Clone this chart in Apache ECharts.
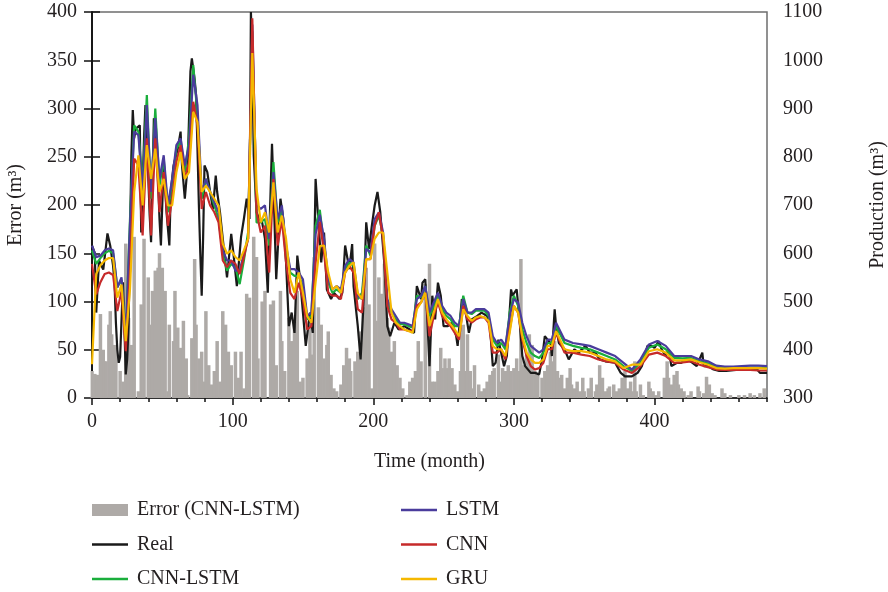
<!DOCTYPE html>
<html>
<head>
<meta charset="utf-8">
<script src="https://cdn.jsdelivr.net/npm/echarts@6/dist/echarts.min.js"></script>
<style>
  html, body { margin: 0; padding: 0; background: #ffffff; }
  #chart { width: 888px; height: 592px; }
</style>
</head>
<body>
<div id="chart"></div>
<script>
// Monthly production (m³): measured series
const realMonths = [0,2,3,5,8,11,13,15,16,17,18,19,20,22,23,24,25,26,27,28,29,30,31,34,35,37,38,40,41,42,44,46,48,49,51,53,55,56,58,61,63,64,66,68,70,71,73,74,75,76,77,78,79,80,82,84,86,88,89,91,93,96,98,99,101,103,105,106,108,110,112,113,114,115,117,119,121,123,125,126,128,129,131,134,136,138,140,142,144,146,148,150,152,155,157,159,161,163,165,167,170,172,176,178,180,183,185,186,189,191,193,195,197,199,201,203,205,208,210,212,215,218,222,226,229,231,234,235,237,238,240,242,244,246,248,250,253,256,259,260,263,265,268,270,274,277,281,283,285,287,289,293,295,298,299,302,304,306,308,312,315,318,320,322,324,326,327,329,330,332,336,339,343,346,351,354,358,361,365,372,376,379,384,388,391,395,398,400,403,405,408,410,412,416,419,423,427,430,432,434,435,438,442,446,451,458,466,473,475,480];
const realProd = [616,600,477,585,566,641,615,574,540,456,400,373,385,540,450,349,380,450,630,803,897,838,858,865,643,838,907,760,680,623,880,824,671,616,789,685,616,727,782,817,852,782,713,782,977,1004,960,928,817,700,600,512,630,782,768,727,692,761,727,685,630,550,609,640,588,532,600,634,671,713,671,1100,1011,803,685,671,664,630,518,630,827,741,546,713,671,581,449,477,435,595,546,477,408,477,435,754,664,581,643,525,505,518,505,518,616,567,619,532,449,380,491,664,609,657,699,727,685,574,449,428,456,442,449,442,435,532,505,539,546,491,366,512,463,539,512,449,449,456,428,408,505,491,435,463,470,477,470,449,366,373,421,366,387,525,512,525,463,387,366,352,352,349,380,428,421,414,387,484,449,414,401,380,401,394,408,394,394,380,376,373,352,345,345,352,366,408,408,404,418,401,387,401,366,373,373,380,373,366,380,394,366,366,359,356,356,358,358,359,352,352];

// Model predictions (m³), sampled on a common month grid
const modelMonths = [0,3,6,9,12,15,18,21,24,27,30,33,36,39,42,45,48,51,54,57,60,63,66,69,72,75,78,81,84,87,90,93,96,99,102,105,108,111,114,117,120,123,126,129,132,135,138,141,144,147,150,153,156,159,162,165,168,171,174,177,180,183,186,189,192,195,198,201,204,207,210,213,216,219,222,225,228,231,234,237,240,243,246,249,252,255,258,261,264,267,270,273,276,279,282,285,288,291,294,297,300,303,306,309,312,315,318,321,324,327,330,336,342,348,354,360,366,372,378,384,390,396,402,408,414,420,426,432,438,444,450,456,462,468,474,480];
const cnnLstm = [606,578,590,600,605,600,530,545,425,670,865,852,740,928,713,900,740,796,685,747,817,831,768,838,990,886,713,754,727,699,671,599,564,578,571,536,585,643,1060,664,664,671,616,789,664,692,609,560,553,553,532,463,470,657,690,616,539,518,525,518,567,581,574,505,518,616,595,657,678,636,498,477,463,453,453,449,446,512,509,532,470,491,512,484,470,463,449,449,512,477,474,481,481,481,470,421,408,414,401,477,512,491,442,414,394,387,383,394,414,414,449,414,408,404,401,394,387,380,366,356,373,404,411,401,383,382,383,376,372,364,362,363,363,363,363,362];
const lstm = [616,592,595,606,610,606,529,550,425,660,852,845,727,907,727,880,754,803,699,754,824,838,782,824,970,907,727,754,727,706,685,606,585,585,564,564,599,630,1074,699,692,699,630,768,671,699,616,567,567,560,546,470,477,640,680,630,546,525,532,525,574,588,581,512,505,609,602,671,685,643,505,484,470,456,456,453,449,505,512,532,477,498,518,491,477,470,456,449,505,477,477,484,484,484,477,428,414,421,408,470,505,498,456,428,408,401,394,401,421,421,456,421,414,411,408,401,394,387,373,359,380,411,418,408,387,387,387,380,376,367,365,365,366,367,367,366];
const cnn = [578,515,540,557,560,555,480,522,397,560,796,782,637,838,637,838,685,768,657,713,789,824,754,789,914,865,692,727,699,685,664,585,571,585,578,557,592,630,1087,685,643,657,560,754,616,671,581,518,505,539,505,442,449,580,665,602,518,512,512,505,560,574,560,484,477,588,588,657,685,630,491,463,456,442,442,439,439,491,498,518,428,470,498,470,456,449,435,421,491,463,456,463,467,467,456,394,394,401,380,442,491,477,421,387,366,359,362,373,401,401,435,394,394,390,387,380,376,373,359,352,366,390,394,387,373,374,376,369,364,359,358,358,358,358,357,357];
const gru = [370,557,575,585,590,590,508,535,418,525,727,803,699,824,754,817,727,754,699,699,768,810,754,768,893,872,727,740,727,713,699,620,599,606,592,585,606,630,1015,734,664,685,643,747,643,678,630,546,518,560,518,470,456,540,615,616,560,525,532,518,560,574,581,518,505,588,588,630,643,643,560,477,456,449,442,439,435,484,498,518,449,477,505,477,463,453,442,428,484,470,460,467,470,467,460,408,401,401,387,435,491,477,428,394,380,373,373,380,408,408,439,401,397,397,394,387,380,376,362,369,369,397,401,394,378,378,380,374,369,362,361,362,362,362,362,361];

// Absolute error of CNN-LSTM (m³)
const errMonths = [0,2,4,6,8,9,10,12,13,14,16,17,20,22,24,26,28,30,33,35,37,40,41,43,45,47,48,50,52,54,55,58,59,61,63,65,67,68,71,73,74,76,78,80,81,83,85,87,89,91,93,95,97,99,102,104,106,108,110,112,115,117,118,121,123,127,129,131,134,135,137,140,142,144,146,148,150,153,155,157,158,161,163,165,167,168,170,172,174,177,179,181,183,184,187,189,191,193,195,197,199,201,202,204,206,208,210,211,213,215,217,219,221,224,226,228,230,232,234,237,240,242,244,246,248,249,251,253,254,256,258,260,262,263,264,266,267,269,271,272,275,277,279,281,283,285,286,289,291,292,294,296,298,300,302,304,305,307,309,311,313,315,317,320,322,324,326,327,329,331,333,334,336,338,340,341,343,345,347,349,350,353,355,358,359,361,363,365,367,368,371,373,375,377,379,381,383,384,386,387,390,392,396,397,399,401,403,407,409,410,412,414,416,417,419,421,424,426,431,432,435,437,439,441,443,448,450,454,460,464,468,471,475,478];
const errVals = [28,25,24,87,50,38,38,76,90,66,55,52,28,17,160,83,55,167,7,97,165,125,76,111,132,135,150,135,111,7,76,59,111,73,52,80,41,3,62,144,76,41,48,17,90,34,14,28,59,17,90,76,48,34,48,21,48,10,108,104,167,146,41,100,111,97,101,34,111,59,28,83,59,76,111,17,21,41,76,45,146,94,76,41,55,69,24,10,7,14,34,52,41,28,38,48,69,94,135,97,10,160,80,125,108,139,83,73,48,59,34,21,10,3,17,21,28,59,38,118,139,17,17,28,52,31,41,31,41,31,14,7,28,73,76,28,66,28,10,34,14,7,10,17,24,28,31,45,17,31,28,34,28,31,41,28,144,34,45,66,55,28,24,21,28,34,48,38,59,28,21,24,10,21,31,14,10,17,7,21,7,10,21,7,14,34,21,7,10,12,14,7,10,21,28,10,17,7,38,7,14,3,17,10,7,3,7,21,38,21,14,24,28,14,10,7,3,7,12,7,5,22,14,5,3,10,5,3,3,3,5,3,5,10];

// Legend / series labels and colours
const seriesNames = ['Error (CNN-LSTM)', 'Real', 'CNN-LSTM', 'LSTM', 'CNN', 'GRU'];
const seriesColors = ['#aeaaa7', '#1a1a1a', '#1aae3c', '#4a3c9c', '#c62a2a', '#f5b800'];

const pairs = (xs, ys) => xs.map((x, i) => [x, ys[i]]);
const FONT = 'Liberation Serif';
const INK = '#231f20';

const lineSeries = (name, color, months, vals) => ({
  name: name,
  type: 'line',
  xAxisIndex: 0,
  yAxisIndex: 1,
  data: pairs(months, vals),
  symbol: 'none',
  lineStyle: { color: color, width: 2.2 },
  itemStyle: { color: color },
  z: 3
});

const lineIcon = 'path://M0,0H40V3H0Z';
const legendText = { fontFamily: FONT, fontSize: 20, lineHeight: 20, color: INK, padding: [0, 0, 0, 4] };

const chart = echarts.init(document.getElementById('chart'), null, { renderer: 'canvas' });
chart.setOption({
  animation: false,
  backgroundColor: '#ffffff',
  textStyle: { fontFamily: FONT, color: INK },
  grid: {
    left: 92, right: 121, top: 12, bottom: 194,
    containLabel: false, outerBoundsMode: 'none',
    show: true, borderColor: '#6e6e6e', borderWidth: 1.5, backgroundColor: 'transparent'
  },
  legend: [
    {
      left: 92, top: 500, orient: 'vertical', itemGap: 14.5, padding: 0,
      itemWidth: 36, itemHeight: 12,
      textStyle: legendText,
      data: [
        { name: seriesNames[0], icon: 'rect' },
        { name: seriesNames[1], icon: lineIcon },
        { name: seriesNames[2], icon: lineIcon }
      ]
    },
    {
      left: 401, top: 500, orient: 'vertical', itemGap: 14.5, padding: 0,
      itemWidth: 36, itemHeight: 12,
      textStyle: legendText,
      data: [
        { name: seriesNames[3], icon: lineIcon },
        { name: seriesNames[4], icon: lineIcon },
        { name: seriesNames[5], icon: lineIcon }
      ]
    }
  ],
  xAxis: [
    {
      type: 'value', min: 0, max: 480, interval: 20, position: 'bottom',
      axisLine: { show: true, lineStyle: { color: '#111', width: 1.5 } },
      axisTick: { show: true, length: 4, lineStyle: { color: '#111', width: 1.5 } },
      axisLabel: { show: false },
      splitLine: { show: false }
    },
    {
      type: 'value', min: 0, max: 480, interval: 100, position: 'bottom',
      axisLine: { show: false },
      axisTick: { show: true, length: 7, lineStyle: { color: '#111', width: 1.5 } },
      axisLabel: { fontFamily: FONT, fontSize: 20, color: INK, margin: 14, showMaxLabel: false },
      splitLine: { show: false },
      name: 'Time (month)', nameLocation: 'middle', nameGap: 54,
      nameTextStyle: { fontFamily: FONT, fontSize: 20, color: INK }
    }
  ],
  yAxis: [
    {
      type: 'value', min: 0, max: 400, interval: 50, position: 'left',
      axisLine: { show: true, lineStyle: { color: '#111', width: 1.5 } },
      axisTick: { show: true, length: 8, lineStyle: { color: '#111', width: 1.5 } },
      axisLabel: { fontFamily: FONT, fontSize: 20, color: INK, margin: 15 },
      splitLine: { show: false },
      name: 'Error (m³)', nameLocation: 'middle', nameRotate: 90, nameGap: 66,
      nameTextStyle: { fontFamily: FONT, fontSize: 20, color: INK }
    },
    {
      type: 'value', min: 300, max: 1100, interval: 100, position: 'right',
      axisLine: { show: true, lineStyle: { color: '#111', width: 1.5 } },
      axisTick: { show: true, length: 8, lineStyle: { color: '#111', width: 1.5 } },
      axisLabel: { fontFamily: FONT, fontSize: 20, color: INK, margin: 16, formatter: (v) => String(v) },
      splitLine: { show: false },
      name: 'Production (m³)', nameLocation: 'middle', nameRotate: 90, nameGap: 101,
      nameTextStyle: { fontFamily: FONT, fontSize: 20, color: INK }
    }
  ],
  series: [
    {
      name: seriesNames[0],
      type: 'bar',
      xAxisIndex: 0,
      yAxisIndex: 0,
      data: pairs(errMonths, errVals),
      barWidth: 3.5,
      itemStyle: { color: seriesColors[0] },
      z: 1
    },
    lineSeries(seriesNames[1], seriesColors[1], realMonths, realProd),
    lineSeries(seriesNames[2], seriesColors[2], modelMonths, cnnLstm),
    lineSeries(seriesNames[3], seriesColors[3], modelMonths, lstm),
    lineSeries(seriesNames[4], seriesColors[4], modelMonths, cnn),
    lineSeries(seriesNames[5], seriesColors[5], modelMonths, gru)
  ]
});
</script>
</body>
</html>
